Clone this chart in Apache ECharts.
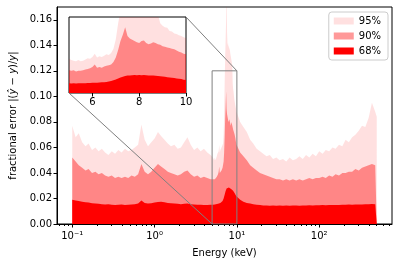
<!DOCTYPE html>
<html><head><meta charset="utf-8">
<script src="https://cdn.jsdelivr.net/npm/echarts@6/dist/echarts.min.js"></script>
<style>html,body{margin:0;padding:0;background:#fff}#c{width:398px;height:266px}</style>
</head><body><div id="c"></div>
<script>
// ---- data ----
const energy = [
  0.100,0.110,0.120,0.132,0.145,0.158,0.174,0.191,0.209,0.229,0.251,0.275,0.302,0.331,0.363,0.398,0.437,0.479,0.525,0.575,
  0.631,0.692,0.759,0.832,0.912,1.00,1.10,1.20,1.32,1.45,1.58,1.74,1.91,2.09,2.29,2.51,2.75,3.02,3.31,3.63,3.98,4.37,4.79,
  5.0,5.1,5.2,5.3,5.4,5.5,5.6,5.7,5.8,5.9,6.0,6.1,6.2,6.3,6.4,6.5,6.6,6.7,6.8,6.9,
  7.0,7.1,7.2,7.3,7.4,7.5,7.6,7.7,7.8,7.9,8.0,8.1,8.2,8.3,8.4,8.5,8.6,8.7,8.8,8.9,
  9.0,9.1,9.2,9.3,9.4,9.5,9.6,9.7,9.8,9.9,10.0,
  10.96,12.0,13.2,14.5,15.8,17.4,19.1,20.9,22.9,25.1,27.5,30.2,33.1,36.3,39.8,43.7,47.9,52.5,57.5,63.1,
  69.2,75.9,83.2,91.2,100,110,120,132,145,158,174,191,209,229,251,275,302,331,363,398,437,479,500
];
const p68 = [
  0.019,0.0185,0.018,0.0175,0.017,0.0168,0.0162,0.016,0.0158,0.0155,0.0152,0.0155,0.015,0.0148,0.015,0.0152,0.0148,0.015,0.0153,0.0155,
  0.016,0.0185,0.0165,0.016,0.0162,0.0168,0.0172,0.0175,0.017,0.0165,0.0162,0.016,0.0158,0.0155,0.0158,0.016,0.0155,0.0152,0.015,0.015,0.0148,0.0148,0.015,
  0.0152,0.015,0.0153,0.015,0.0152,0.0155,0.0153,0.0155,0.0157,0.0158,0.016,0.0162,0.0163,0.0165,0.0168,0.017,0.0175,0.018,0.019,0.020,
  0.0215,0.023,0.0245,0.0258,0.027,0.0278,0.0275,0.028,0.0285,0.0282,0.0285,0.028,0.0283,0.028,0.0278,0.0275,0.0278,0.0272,0.027,0.0265,
  0.026,0.0255,0.025,0.0245,0.024,0.0235,0.023,0.0225,0.022,0.021,0.0205,
  0.019,0.0175,0.0165,0.016,0.0155,0.015,0.0148,0.0145,0.0145,0.0143,0.0145,0.0143,0.0145,0.0143,0.0145,0.0143,0.0145,0.0145,0.0143,0.0145,
  0.0145,0.0147,0.0145,0.0147,0.0147,0.0148,0.0147,0.0148,0.0148,0.0149,0.0148,0.015,0.015,0.0152,0.015,0.0152,0.0153,0.0152,0.0155,0.0155,0.0157,0.0155,0.0155
];
const p90 = [
  0.052,0.049,0.046,0.044,0.042,0.043,0.040,0.041,0.039,0.040,0.038,0.037,0.038,0.036,0.037,0.036,0.037,0.036,0.038,0.037,
  0.039,0.047,0.041,0.039,0.041,0.044,0.047,0.045,0.043,0.041,0.040,0.039,0.038,0.039,0.041,0.042,0.039,0.037,0.038,0.036,0.037,0.036,0.035,
  0.036,0.035,0.036,0.034,0.035,0.035,0.036,0.037,0.038,0.039,0.041,0.045,0.040,0.041,0.040,0.042,0.043,0.044,0.045,0.049,
  0.056,0.068,0.082,0.092,0.104,0.090,0.086,0.084,0.082,0.080,0.079,0.082,0.083,0.079,0.077,0.078,0.080,0.079,0.077,0.076,
  0.074,0.073,0.072,0.071,0.070,0.069,0.067,0.065,0.064,0.062,0.061,
  0.056,0.053,0.050,0.046,0.044,0.042,0.040,0.039,0.038,0.037,0.036,0.035,0.035,0.034,0.035,0.034,0.035,0.034,0.035,0.034,
  0.035,0.036,0.035,0.036,0.036,0.037,0.036,0.038,0.037,0.039,0.038,0.040,0.040,0.041,0.041,0.043,0.042,0.044,0.045,0.046,0.047,0.046,0.045
];
const p95 = [
  0.077,0.068,0.071,0.064,0.061,0.063,0.058,0.060,0.057,0.059,0.056,0.054,0.057,0.055,0.058,0.056,0.059,0.057,0.058,0.060,
  0.062,0.078,0.066,0.061,0.064,0.067,0.072,0.069,0.066,0.063,0.061,0.062,0.059,0.060,0.064,0.068,0.062,0.058,0.060,0.057,0.059,0.056,0.054,
  0.054,0.052,0.051,0.050,0.052,0.050,0.051,0.053,0.055,0.054,0.057,0.062,0.056,0.058,0.057,0.059,0.061,0.060,0.063,0.070,
  0.085,0.110,0.130,0.145,0.160,0.185,0.150,0.140,0.142,0.138,0.140,0.136,0.138,0.134,0.135,0.130,0.128,0.126,0.124,0.110,
  0.106,0.104,0.103,0.098,0.097,0.094,0.093,0.091,0.090,0.088,0.087,
  0.080,0.076,0.072,0.066,0.063,0.059,0.057,0.055,0.053,0.054,0.051,0.052,0.050,0.051,0.049,0.052,0.050,0.051,0.053,0.051,
  0.054,0.052,0.055,0.053,0.057,0.055,0.058,0.057,0.060,0.059,0.062,0.061,0.066,0.064,0.068,0.070,0.073,0.077,0.076,0.083,0.095,0.088,0.084
];
const seriesNames = ['95%', '90%', '68%'];
const yTicks = [0, 0.02, 0.04, 0.06, 0.08, 0.10, 0.12, 0.14, 0.16];
const xMajor = [0.1, 1, 10, 100];
const xMajorLabels = ['10\u207B\u00B9', '10\u2070', '10\u00B9', '10\u00B2'];
const xMinor = [0.07,0.08,0.09,0.2,0.3,0.4,0.5,0.6,0.7,0.8,0.9,2,3,4,5,6,7,8,9,20,30,40,50,60,70,80,90,200,300,400,500,600,700];
const insetTicks = [6, 8, 10];
const zoomX = [5, 10];
const zoomY = [0, 0.12];

// ---- chart ----
const chart = echarts.init(document.getElementById('c'), null, {renderer: 'canvas'});
const font = 'DejaVu Sans';
const fills = ['rgba(255,0,0,0.12)', 'rgba(255,0,0,0.4)', 'rgba(255,0,0,1)'];
const vals = [p95, p90, p68];
const mainBox = {left: 57, top: 7, width: 335, height: 217};

function areaSeries(idx, xi, yi, z) {
  return {
    name: seriesNames[idx], type: 'line', xAxisIndex: xi, yAxisIndex: yi, z: z,
    data: energy.map((e, i) => [e, vals[idx][i]]),
    showSymbol: false, symbol: 'none', clip: true, silent: true,
    lineStyle: {width: 0, opacity: 0},
    itemStyle: {color: fills[idx]},
    areaStyle: {color: fills[idx], opacity: 1}
  };
}

const series = [
  areaSeries(0, 0, 0, 2), areaSeries(1, 0, 0, 2), areaSeries(2, 0, 0, 2),
  {
    type: 'line', xAxisIndex: 0, yAxisIndex: 0, silent: true, symbol: 'none', z: 5,
    data: [[zoomX[0], zoomY[0]], [zoomX[0], zoomY[1]], [zoomX[1], zoomY[1]], [zoomX[1], zoomY[0]], [zoomX[0], zoomY[0]]],
    lineStyle: {color: '#808080', width: 1}
  },
  areaSeries(0, 1, 1, 20), areaSeries(1, 1, 1, 20), areaSeries(2, 1, 1, 20),
  // invisible carrier series so the minor-tick grid is a real cartesian
  {type: 'line', xAxisIndex: 2, yAxisIndex: 2, data: [], silent: true, symbol: 'none'}
];

const option = {
  animation: false,
  backgroundColor: '#fff',
  textStyle: {fontFamily: font, color: '#000'},
  grid: [
    Object.assign({show: true, borderColor: '#000', borderWidth: 1}, mainBox),
    {left: 69, top: 17, width: 117, height: 76, show: true, borderColor: '#000', borderWidth: 1, backgroundColor: '#fff', z: 10},
    Object.assign({show: false}, mainBox)
  ],
  legend: {
    data: seriesNames, orient: 'vertical', right: 10, top: 12,
    itemWidth: 20, itemHeight: 7, itemGap: 5, icon: 'rect',
    borderColor: '#ccc', borderWidth: 1, borderRadius: 3, padding: [4, 7, 4, 5],
    backgroundColor: 'rgba(255,255,255,0.8)',
    textStyle: {fontFamily: font, fontSize: 10, color: '#000'},
    selectedMode: false
  },
  xAxis: [
    {
      type: 'log', gridIndex: 0, logBase: 10, min: 0.0653, max: 766, position: 'bottom',
      name: 'Energy (keV)', nameLocation: 'middle', nameGap: 24,
      nameTextStyle: {fontFamily: font, fontSize: 10, color: '#000'},
      axisLine: {show: true, lineStyle: {color: '#000', width: 1}},
      axisTick: {show: true, customValues: xMajor, length: 3.5, lineStyle: {color: '#000', width: 1}},
      axisLabel: {customValues: xMajor, fontFamily: font, fontSize: 10, color: '#000', margin: 7,
        formatter: v => { const i = xMajor.findIndex(t => Math.abs(t - v) / t < 1e-6); return i >= 0 ? xMajorLabels[i] : ''; }},
      splitLine: {show: false}
    },
    {
      type: 'value', gridIndex: 1, min: zoomX[0], max: zoomX[1], position: 'bottom', z: 30,
      axisLine: {show: false},
      axisTick: {show: true, customValues: insetTicks, length: 3.5, lineStyle: {color: '#000', width: 1}},
      axisLabel: {customValues: insetTicks, fontFamily: font, fontSize: 10, color: '#000', margin: 4},
      splitLine: {show: false}
    },
    {
      type: 'log', gridIndex: 2, logBase: 10, min: 0.0653, max: 766, position: 'bottom',
      axisLine: {show: false},
      axisTick: {show: true, customValues: xMinor, length: 2, lineStyle: {color: '#000', width: 1}},
      axisLabel: {show: false},
      splitLine: {show: false}
    }
  ],
  yAxis: [
    {
      type: 'value', gridIndex: 0, min: 0, max: 0.17,
      name: '{n|fractional error }{m||(}{i|\u0177}{m| \u2212 }{i|y}{m|)/}{i|y}{m||}',
      nameLocation: 'middle', nameGap: 35,
      nameTextStyle: {fontFamily: font, fontSize: 10, color: '#000',
        rich: {n: {fontFamily: font, fontSize: 10}, m: {fontFamily: font, fontSize: 10}, i: {fontFamily: font, fontSize: 10, fontStyle: 'italic'}}},
      axisLine: {show: true, lineStyle: {color: '#000', width: 1}},
      axisTick: {show: true, customValues: yTicks, length: 3.5, lineStyle: {color: '#000', width: 1}},
      axisLabel: {customValues: yTicks, fontFamily: font, fontSize: 10, color: '#000', margin: 5,
        formatter: v => v.toFixed(2)},
      splitLine: {show: false}
    },
    {
      type: 'value', gridIndex: 1, min: zoomY[0], max: zoomY[1],
      axisLine: {show: false}, axisTick: {show: false}, axisLabel: {show: false}, splitLine: {show: false}
    },
    {
      type: 'value', gridIndex: 2, min: 0, max: 1,
      axisLine: {show: false}, axisTick: {show: false}, axisLabel: {show: false}, splitLine: {show: false}
    }
  ],
  series: series
};
chart.setOption(option);

// connector lines between inset corners and zoom rectangle corners
const insetBL = chart.convertToPixel({seriesIndex: 4}, [zoomX[0], zoomY[0]]);
const rectBL = chart.convertToPixel({seriesIndex: 0}, [zoomX[0], zoomY[0]]);
const insetTR = chart.convertToPixel({seriesIndex: 4}, [zoomX[1], zoomY[1]]);
const rectTR = chart.convertToPixel({seriesIndex: 0}, [zoomX[1], zoomY[1]]);
chart.setOption({
  graphic: [
    {type: 'line', z: 100, silent: true, shape: {x1: insetBL[0], y1: insetBL[1], x2: rectBL[0], y2: rectBL[1]}, style: {stroke: '#808080', lineWidth: 1}},
    {type: 'line', z: 100, silent: true, shape: {x1: insetTR[0], y1: insetTR[1], x2: rectTR[0], y2: rectTR[1]}, style: {stroke: '#808080', lineWidth: 1}}
  ]
});
</script>
</body></html>
